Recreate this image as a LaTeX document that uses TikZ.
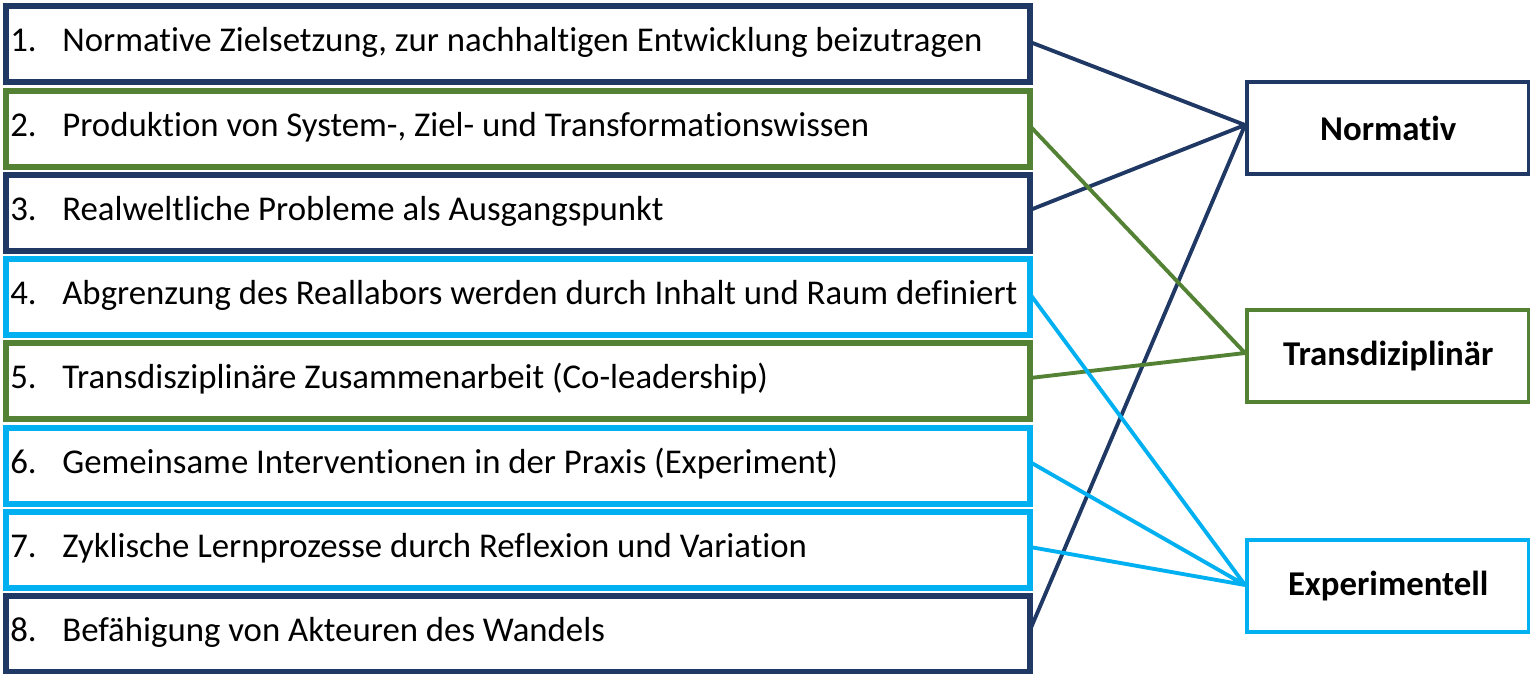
\documentclass[tikz,border=0pt]{standalone}
\usepackage{fontspec}
\setmainfont{Carlito}[Ligatures={NoCommon}]
\definecolor{navy}{HTML}{203864}
\definecolor{grn}{HTML}{548235}
\definecolor{cyn}{HTML}{00B0F0}
\begin{document}
\begin{tikzpicture}[x=0.02cm,y=-0.02cm,
  lb/.style={draw,line width=3.5pt,minimum width=1024*0.02cm,minimum height=76*0.02cm,anchor=north west,inner sep=0pt},
  rb/.style={draw,line width=2.5pt,minimum width=282*0.02cm,minimum height=92*0.02cm,anchor=north west,font=\fontsize{19.8}{22}\selectfont\bfseries},
  tx/.style={font=\fontsize{19.8}{22}\selectfont,anchor=base west,inner sep=0pt},
  ln/.style={line width=2.2pt}]
\useasboundingbox (0,0) rectangle (1530,673);
\foreach \i/\y/\c/\t in {1/3/navy/Normative Zielsetzung{,} zur nachhaltigen Entwicklung beizutragen,
  2/88/grn/Produktion von System-{,} Ziel- und Transformationswissen,
  3/172/navy/Realweltliche Probleme als Ausgangspunkt,
  4/256/cyn/Abgrenzung des Reallabors werden durch Inhalt und Raum definiert,
  5/340/grn/Transdisziplinäre Zusammenarbeit (Co-leadership),
  6/425/cyn/Gemeinsame Interventionen in der Praxis (Experiment),
  7/509/cyn/Zyklische Lernprozesse durch Reflexion und Variation,
  8/593/navy/Befähigung von Akteuren des Wandels}{
  \node[lb,draw=\c] (b\i) at (3,\y) {};
  \node[tx] (n\i) at (10,\y+48) {\i.};
  \node[tx] (t\i) at (62,\y+48) {\t};
}
\node[rb,draw=navy] (N) at (1245,80) {Normativ};
\node[rb,draw=grn] (T) at (1245,308) {Transdiziplinär};
\node[rb,draw=cyn] (E) at (1245,538) {Experimentell};
\coordinate (NL) at (1245,125);
\coordinate (TL) at (1245,353);
\coordinate (EL) at (1245,585);
\coordinate (p1) at (1030,42); \coordinate (p2) at (1030,126);
\coordinate (p3) at (1030,210); \coordinate (p4) at (1030,294);
\coordinate (p5) at (1030,378); \coordinate (p6) at (1030,462);
\coordinate (p7) at (1030,547); \coordinate (p8) at (1030,630);
\draw[ln,navy] (p1)--(NL) (p3)--(NL) (p8)--(NL);
\draw[ln,grn] (p2)--(TL) (p5)--(TL);
\draw[ln,cyn] (p4)--(EL) (p6)--(EL) (p7)--(EL);
\end{tikzpicture}
\end{document}
